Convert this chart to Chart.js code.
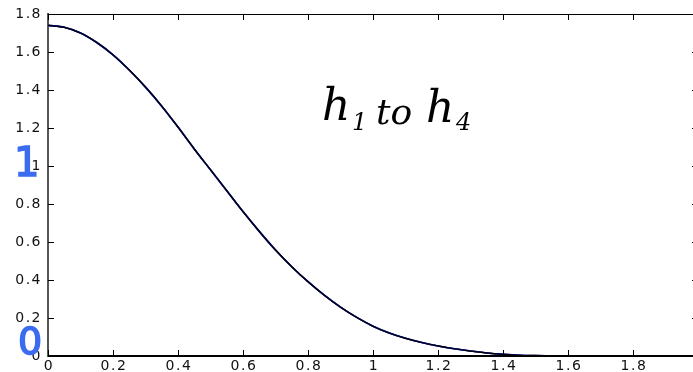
<!DOCTYPE html>
<html>
<head>
<meta charset="utf-8">
<script src="https://cdn.jsdelivr.net/npm/chart.js@4"></script>
<style>
html, body { margin: 0; padding: 0; background: #fff; overflow: hidden; }
#wrap { width: 700px; height: 372px; }
</style>
</head>
<body>
<div id="wrap"><canvas id="kernelChart" width="700" height="372"></canvas></div>
<script>
// values
const xValues = [0, 0.05, 0.1, 0.15, 0.2, 0.25, 0.3, 0.35, 0.4, 0.45, 0.5, 0.55, 0.6, 0.65, 0.7,
    0.75, 0.8, 0.85, 0.9, 0.95, 1.0, 1.05, 1.1, 1.15, 1.2, 1.25, 1.3, 1.35, 1.4, 1.45, 1.5, 1.6, 1.7, 1.8, 2.0];
const hValues = [1.74, 1.73, 1.70, 1.65, 1.585, 1.505, 1.415, 1.315, 1.205, 1.09, 0.98, 0.87, 0.76, 0.656, 0.558,
    0.47, 0.391, 0.32, 0.257, 0.203, 0.157, 0.121, 0.093, 0.071, 0.053, 0.038, 0.026, 0.016, 0.009, 0.004, 0.002, 0, 0, 0, 0];
const seriesNames = ['h1', 'h2', 'h3', 'h4'];
const seriesColors = ['#ff0000', '#00b000', '#0000ff', '#000000'];
const xTicks = [0, 0.2, 0.4, 0.6, 0.8, 1, 1.2, 1.4, 1.6, 1.8];
const yTicks = [0, 0.2, 0.4, 0.6, 0.8, 1, 1.2, 1.4, 1.6, 1.8];

const points = xValues.map((v, i) => ({x: v, y: hValues[i]}));

// h4 (black) ends up on top, the others peek out under it
const datasets = seriesNames.map((name, i) => ({
    label: name,
    data: points,
    borderColor: seriesColors[i],
    borderWidth: i === 3 ? 1.2 : 1.6,
    order: 3 - i,
    pointRadius: 0,
    fill: false,
    cubicInterpolationMode: 'monotone'
}));

// MATLAB style box with inward ticks and wide tick labels
const frameTicks = {
    id: 'frameTicks',
    afterDraw(chart) {
        const ctx = chart.ctx;
        const a = chart.chartArea;
        const x = chart.scales.x;
        const y = chart.scales.y;
        ctx.save();
        ctx.strokeStyle = '#000';
        ctx.lineWidth = 1;
        ctx.beginPath();
        ctx.moveTo(a.left, a.top + 0.5);
        ctx.lineTo(a.right, a.top + 0.5);
        ctx.lineTo(a.right, a.bottom);
        xTicks.forEach(v => {
            const px = Math.round(x.getPixelForValue(v)) + 0.5;
            ctx.moveTo(px, a.bottom); ctx.lineTo(px, a.bottom - 6);
            ctx.moveTo(px, a.top); ctx.lineTo(px, a.top + 6);
        });
        yTicks.forEach(v => {
            const py = Math.round(y.getPixelForValue(v)) + 0.5;
            ctx.moveTo(a.left, py); ctx.lineTo(a.left + 6, py);
            ctx.moveTo(a.right, py); ctx.lineTo(a.right - 6, py);
        });
        ctx.stroke();
        ctx.lineWidth = 2;
        ctx.beginPath();
        ctx.moveTo(a.left, a.bottom);
        ctx.lineTo(a.right, a.bottom);
        ctx.stroke();

        ctx.fillStyle = '#111';
        ctx.font = '14px "DejaVu Sans"';
        ctx.letterSpacing = '1.5px';
        ctx.textBaseline = 'middle';
        ctx.textAlign = 'center';
        xTicks.forEach(v => {
            ctx.fillText(String(v), x.getPixelForValue(v) + 1, a.bottom + 10);
        });
        ctx.textAlign = 'right';
        yTicks.forEach(v => {
            ctx.fillText(String(v), 42, y.getPixelForValue(v));
        });
        ctx.restore();
    }
};

// handwritten notes on the picture
const notes = {
    id: 'notes',
    afterDraw(chart) {
        const ctx = chart.ctx;
        ctx.save();
        ctx.fillStyle = '#000';
        ctx.textBaseline = 'alphabetic';
        ctx.font = 'italic 44px "DejaVu Serif"';
        ctx.fillText('h', 322, 120);
        ctx.fillText('h', 426, 122);
        ctx.font = 'italic 24px "DejaVu Serif"';
        ctx.fillText('1', 352, 130);
        ctx.fillText('4', 456, 130);
        ctx.font = 'italic 36px "DejaVu Serif"';
        ctx.fillText('to', 376, 124);
        ctx.fillStyle = '#3b6cf0';
        ctx.strokeStyle = '#3b6cf0';
        ctx.lineWidth = 1.5;
        ctx.font = '40px "DejaVu Sans"';
        ctx.fillText('1', 14, 176);
        ctx.strokeText('1', 14, 176);
        ctx.font = '38px "DejaVu Sans"';
        ctx.fillText('0', 18, 354);
        ctx.strokeText('0', 18, 354);
        ctx.restore();
    }
};

const config = {
    type: 'line',
    data: {datasets},
    options: {
        responsive: false,
        animation: false,
        devicePixelRatio: 1,
        layout: {padding: {top: 14, right: 2, left: 0, bottom: 0}},
        plugins: {legend: {display: false}, tooltip: {enabled: false}},
        scales: {
            x: {
                type: 'linear',
                min: 0,
                max: 2,
                afterBuildTicks: scale => { scale.ticks = xTicks.map(v => ({value: v})); },
                afterFit: scale => { scale.height = 16; },
                grid: {drawOnChartArea: false, drawTicks: false},
                border: {color: '#000', width: 1},
                ticks: {display: false}
            },
            y: {
                type: 'linear',
                min: 0,
                max: 1.8,
                afterBuildTicks: scale => { scale.ticks = yTicks.map(v => ({value: v})); },
                afterFit: scale => { scale.width = 48; },
                grid: {drawOnChartArea: false, drawTicks: false},
                border: {color: '#555', width: 2},
                ticks: {display: false}
            }
        }
    },
    plugins: [frameTicks, notes]
};

const kernelChart = new Chart(document.getElementById('kernelChart'), config);
</script>
</body>
</html>
